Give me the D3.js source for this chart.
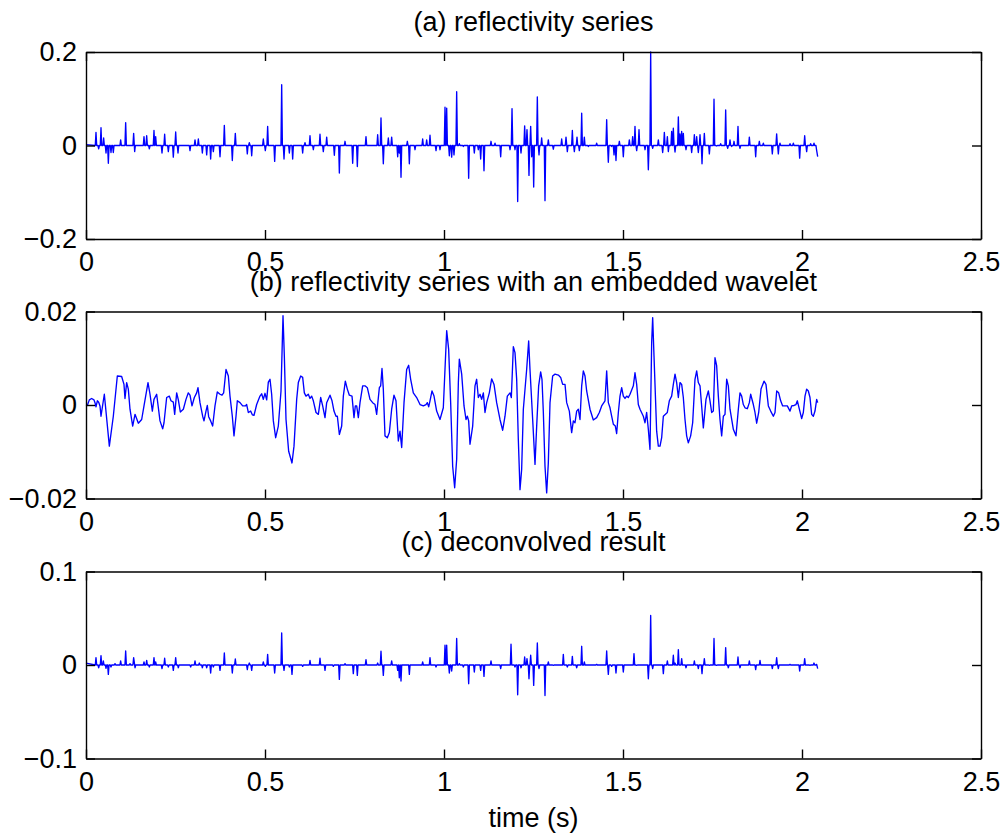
<!DOCTYPE html>
<html>
<head>
<meta charset="utf-8">
<script src="https://cdnjs.cloudflare.com/ajax/libs/d3/7.8.5/d3.min.js"></script>
<style>
  body { margin: 0; background: #fff; }
</style>
</head>
<body>
<div id="chart"></div>
<script>
// panel titles and axis text
const titles = [
  '(a) reflectivity series',
  '(b) reflectivity series with an embedded wavelet',
  '(c) deconvolved result',
];
const xLabel = 'time (s)';
const xTicks = [0, 0.5, 1, 1.5, 2, 2.5];
const xTickLabels = ['0', '0.5', '1', '1.5', '2', '2.5'];
const yDomains = [[-0.2, 0.2], [-0.02, 0.02], [-0.1, 0.1]];
const yTicks = [[-0.2, 0, 0.2], [-0.02, 0, 0.02], [-0.1, 0, 0.1]];
const yTickLabels = [
  ['\u22120.2', '0', '0.2'],
  ['\u22120.02', '0', '0.02'],
  ['\u22120.1', '0', '0.1'],
];

// sample interval of the traces (s)
const dt = 0.002;

// (a) reflectivity: spike times and amplitudes
// (first / last entries are the trace ends, other samples sit near zero)
const reflTime = [0, .0279, .0354, .0419, .0493, .0559, .0624, .0698, .0763, .0968, .1108, .1331, .1359, .162, .1695, .1769, .1899, .1946, .2123, .2197, .23, .2439, .2505, .257, .2905, .3045, .3138, .325, .3371, .3482, .3557, .3743, .3864, .4087, .4171, .4506, .4562, .4628, .4953, .5009, .5074, .527, .5466, .5531, .568, .5773, .6052, .6117, .6257, .635, .6536, .6629, .6723, .6937, .7077, .7235, .7449, .7579, .7821, .8147, .824, .8305, .8445, .8538, .8706, .8752, .8799, .8976, .9032, .919, .9404, .9516, .9609, .9777, .9888, 1.0028, 1.0075, 1.0149, 1.0214, 1.0279, 1.0354, 1.0428, 1.054, 1.0689, 1.0847, 1.0959, 1.1024, 1.1117, 1.1313, 1.1425, 1.1583, 1.1844, 1.19, 1.1983, 1.2058, 1.2151, 1.2253, 1.2318, 1.2374, 1.2421, 1.2449, 1.2505, 1.2607, 1.2654, 1.2728, 1.2821, 1.2914, 1.3054, 1.3287, 1.3408, 1.3445, 1.3585, 1.3641, 1.3715, 1.378, 1.3846, 1.392, 1.4032, 1.4264, 1.4544, 1.459, 1.4683, 1.4749, 1.4804, 1.4898, 1.5009, 1.5177, 1.527, 1.5335, 1.5382, 1.5447, 1.5615, 1.5708, 1.5773, 1.5829, 1.5987, 1.6108, 1.6155, 1.6239, 1.6266, 1.6359, 1.6406, 1.6453, 1.6546, 1.6592, 1.6639, 1.6685, 1.676, 1.6918, 1.6993, 1.7058, 1.7104, 1.7151, 1.7207, 1.7272, 1.7412, 1.7542, 1.7616, 1.7728, 1.7868, 1.7924, 1.7989, 1.8035, 1.8101, 1.8212, 1.8268, 1.8529, 1.8706, 1.8808, 1.892, 1.9171, 1.9292, 1.9339, 1.9385, 1.9665, 1.9758, 1.9935, 2.0075, 2.013, 2.0242, 2.0335, 2.041, 2.0438];
const reflValue = [.002, .028, -.007, .038, .016, -.016, -.038, -.015, -.015, .012, .049, .026, -.013, .019, .021, -.007, .032, .019, -.016, .024, -.013, -.025, .029, -.016, -.011, .012, .014, -.016, -.02, -.029, -.013, -.024, .043, -.032, .026, -.018, .006, -.022, .014, -.011, .041, -.034, .13, -.029, -.016, -.029, -.016, .006, .021, -.009, .024, -.013, .018, -.021, -.059, .009, -.038, -.045, .019, .023, .059, -.039, .016, .018, -.024, -.016, -.068, .009, -.039, -.009, .014, .012, .022, -.011, -.009, .082, .08, -.022, -.025, -.02, .115, .004, -.002, -.07, -.016, -.009, -.029, -.054, .009, .005, -.024, -.009, .079, -.009, -.12, -.016, .042, .034, -.064, .041, -.024, -.089, .104, -.02, .016, -.118, .012, -.008, .014, .018, -.013, .032, -.013, .018, -.011, .069, .018, -.002, .005, .055, -.036, -.002, -.02, -.032, .009, -.024, .012, .019, .041, -.011, .034, -.009, -.052, .2, -.006, .012, -.015, .028, .019, -.013, .03, .037, -.014, .061, .025, .03, .026, -.009, -.015, .023, .019, -.015, .023, -.039, .026, -.018, .099, -.001, .004, .076, -.006, .012, -.002, .009, .041, -.006, .018, -.024, .009, .005, -.018, .025, -.018, .005, .004, .005, -.027, .021, -.013, .004, .005, -.011, -.024];

// (b) reflectivity convolved with the wavelet: trace vertices
const waveTime = [0, .0037, .0093, .0158, .0223, .0251, .0279, .0317, .0354, .0391, .0419, .0512, .0652, .0763, .0875, .0996, .1061, .1089, .1136, .1182, .1229, .1304, .1369, .1462, .1555, .162, .1732, .1788, .1853, .1899, .1974, .2067, .2142, .2179, .2253, .2328, .2374, .2439, .2477, .2533, .2579, .2635, .2719, .2793, .2858, .2905, .2961, .3026, .3091, .3128, .3184, .3259, .3296, .3352, .3389, .3426, .3482, .3538, .3603, .3668, .3743, .3799, .3845, .3911, .3976, .4022, .4087, .4134, .419, .4227, .4302, .4376, .4451, .4488, .4534, .4599, .4646, .4693, .4767, .486, .4907, .4953, .5, .5047, .5093, .514, .5186, .5233, .5298, .5372, .5447, .5503, .554, .5587, .5661, .5754, .581, .5885, .5931, .5997, .6052, .6099, .6145, .621, .6257, .6304, .635, .6425, .649, .6555, .6611, .6676, .6723, .6816, .6872, .6927, .6983, .7021, .7077, .7142, .7188, .7244, .73, .7356, .743, .7486, .7523, .7561, .7607, .7654, .7728, .7793, .7858, .7933, .8007, .8073, .8119, .8194, .8231, .8268, .8305, .8352, .8417, .8473, .8538, .8603, .8659, .8724, .8771, .8818, .8883, .8957, .9013, .9069, .9143, .9236, .933, .9423, .9497, .9534, .9572, .9609, .9665, .9721, .9795, .9888, .9981, 1.0075, 1.013, 1.0186, 1.0242, 1.0298, 1.0354, 1.0401, 1.0428, 1.0494, 1.0559, 1.0615, 1.0652, 1.0689, 1.0726, 1.0801, 1.0866, 1.0912, 1.0959, 1.1006, 1.1052, 1.1099, 1.1145, 1.1192, 1.1266, 1.1331, 1.1397, 1.1471, 1.1564, 1.1639, 1.1704, 1.1769, 1.1844, 1.1881, 1.1937, 1.1983, 1.203, 1.2076, 1.2123, 1.2169, 1.2216, 1.2309, 1.2365, 1.2402, 1.2477, 1.2542, 1.2589, 1.2644, 1.27, 1.2737, 1.2775, 1.2821, 1.2868, 1.2914, 1.2961, 1.3035, 1.3101, 1.3194, 1.3259, 1.3315, 1.338, 1.3427, 1.3501, 1.3566, 1.3613, 1.3659, 1.3706, 1.3752, 1.3799, 1.3846, 1.3892, 1.3939, 1.3985, 1.4078, 1.4171, 1.4264, 1.4339, 1.4404, 1.4497, 1.4544, 1.459, 1.4637, 1.4683, 1.473, 1.4786, 1.4823, 1.487, 1.4916, 1.4963, 1.5009, 1.5056, 1.5103, 1.5149, 1.5196, 1.5289, 1.5335, 1.5382, 1.5428, 1.5475, 1.5568, 1.5615, 1.5661, 1.5708, 1.5754, 1.5801, 1.5829, 1.5866, 1.594, 1.5987, 1.6034, 1.608, 1.6127, 1.6238, 1.6294, 1.6359, 1.6406, 1.6453, 1.6499, 1.6546, 1.6592, 1.6639, 1.6685, 1.6732, 1.6778, 1.6825, 1.689, 1.6946, 1.7011, 1.7058, 1.7104, 1.7151, 1.7197, 1.7244, 1.7318, 1.7384, 1.743, 1.7477, 1.7523, 1.757, 1.7616, 1.7663, 1.7709, 1.7756, 1.7803, 1.7849, 1.7896, 1.7942, 1.7989, 1.8082, 1.8156, 1.8222, 1.8268, 1.8315, 1.8361, 1.8408, 1.8473, 1.8529, 1.8566, 1.8641, 1.8687, 1.8734, 1.879, 1.8855, 1.8939, 1.8994, 1.906, 1.9125, 1.92, 1.9246, 1.9293, 1.9348, 1.9404, 1.946, 1.9525, 1.959, 1.9665, 1.9711, 1.9777, 1.9832, 1.987, 1.9926, 1.9991, 2.0037, 2.0084, 2.013, 2.0177, 2.0223, 2.027, 2.0317, 2.0363, 2.041, 2.0438];
const waveValue = [-.0002, -.0001, .0011, .0014, .0011, .0005, -.0004, .0009, .0006, -.0002, -.0024, .0023, -.0088, -.0024, .0062, .0061, .0044, .0014, .0048, .0034, -.0009, -.0045, -.002, -.0039, -.0031, -.0002, .0048, .0023, -.0013, .0012, .0023, -.0034, -.0051, -.0038, .0016, .0019, .0009, .0006, -.002, .0026, .0011, -.0015, -.0009, .0012, .0026, .0021, -.0002, .0016, .0026, .0037, .0005, -.0024, -.0034, -.0013, -.0001, -.0025, -.0034, -.0045, -.0002, .0028, .0023, .0021, .0026, .0076, .0062, .0019, -.0024, -.0066, -.0024, .0009, .0005, -.0002, -.0002, .0001, -.0016, -.0013, -.0021, -.0022, .0001, .0019, .0024, .0012, .0025, .0011, .0049, .0055, .0023, -.0034, -.007, -.0045, .003, .0191, .0105, -.0031, -.0099, -.0124, -.0088, .0012, .0048, .0062, .0059, .0026, .0019, .0023, .0014, .0019, .0009, -.0016, -.002, .0016, -.0002, -.0027, .0005, .0021, .0009, -.0013, -.0024, -.0024, -.0063, -.0045, .0019, .0051, .0034, .0021, .0019, -.0027, -.0002, -.0002, -.0027, .0005, .0041, .0041, .0037, .0012, .0005, .0001, -.002, .0037, .0041, .0078, .0034, -.0066, -.007, -.0059, -.0009, .0021, .0009, -.0077, -.0056, -.0091, .0005, .0076, .0085, .0055, .0026, .0016, .0001, -.0002, .0001, .0005, -.0004, .0009, .003, .0019, -.0013, -.0031, -.0006, .0159, .0119, .0005, -.0131, -.0177, -.0116, .0048, .0098, .0066, -.0002, -.0031, -.0024, -.0034, -.0084, -.0045, .0041, .0055, .0016, .0023, .0012, .0026, -.0016, .0005, .0026, .0056, .0044, .0005, -.0031, -.0054, -.0024, .0019, .0026, .0016, .0125, .0112, .0055, -.0074, -.0181, -.0138, -.0009, .0076, .0137, .0076, -.0031, -.0127, -.0045, .0041, .0071, .0055, -.0016, -.0131, -.0188, -.0124, .0005, .0062, .0066, .0064, .0059, .0044, .0044, .0005, -.0013, -.0059, -.0034, -.0038, -.0013, -.0009, -.0031, .0041, .0073, .0062, .003, -.0009, -.0032, -.0027, -.0016, -.0002, .0009, .0073, .0005, -.0006, -.0024, -.0041, -.0045, -.0061, -.0016, .0019, .0037, .0019, .0014, .0019, .0016, .0023, .0041, .0069, .0044, .0001, -.0009, -.0024, -.0038, -.0016, -.0052, -.0095, .0134, .0187, .0105, -.0056, -.0088, -.0088, -.007, -.0024, -.0016, .0009, .0019, .0044, .0066, .0048, .0016, .0048, .0044, .0016, -.0031, -.0066, -.0081, -.0066, -.0038, .0055, .0073, .0048, .0041, -.0002, -.0049, .0012, .003, .0009, -.0016, -.0013, .0101, .0084, .0019, -.0031, -.0066, -.0024, -.002, .0055, .0041, -.0009, -.0052, -.0066, -.0009, .0026, .0019, .0001, -.0006, -.0008, .0005, .0023, .0001, -.0016, -.0039, -.0016, .0034, .0051, .0044, -.0002, -.0013, -.0024, -.0016, .003, .0026, .0009, -.0002, -.0002, -.0002, -.0013, -.0002, -.0001, .0001, .0009, -.0009, -.0029, -.0016, .0019, .0034, .003, .0016, -.002, -.0024, -.0013, .0012, .0005];

// (c) deconvolved result: spike times and amplitudes
const deconTime = [0, .0279, .0354, .0419, .0484, .0559, .0624, .0698, .081, .0968, .1108, .1229, .1331, .1369, .162, .1695, .1769, .1899, .1946, .2123, .2197, .23, .2439, .2505, .2579, .2924, .3045, .3166, .325, .3371, .3482, .3557, .3743, .3864, .4087, .4171, .4506, .4562, .4628, .4953, .5009, .5074, .527, .5466, .5531, .568, .5754, .6052, .6257, .6536, .6676, .6909, .7077, .7235, .7467, .7579, .7821, .8147, .824, .8305, .8538, .8706, .8752, .8799, .9032, .9404, .9609, .9777, 1.0028, 1.0075, 1.0149, 1.0214, 1.0354, 1.0428, 1.054, 1.0689, 1.0847, 1.1024, 1.1117, 1.1313, 1.1583, 1.1872, 1.1983, 1.2058, 1.2151, 1.2253, 1.2318, 1.2374, 1.2421, 1.2505, 1.2607, 1.2654, 1.2821, 1.2914, 1.3054, 1.3333, 1.3445, 1.3585, 1.3706, 1.3846, 1.392, 1.4264, 1.4544, 1.459, 1.4683, 1.4804, 1.5009, 1.5307, 1.5382, 1.5708, 1.5773, 1.5829, 1.6127, 1.6239, 1.6406, 1.6453, 1.6546, 1.6639, 1.676, 1.6993, 1.7104, 1.7207, 1.7272, 1.7412, 1.7542, 1.7616, 1.7868, 1.7942, 1.8212, 1.8268, 1.8529, 1.8706, 1.8827, 1.9171, 1.9292, 1.9339, 1.9665, 1.9935, 2.0075, 2.0223, 2.0335, 2.041, 2.0438];
const deconValue = [.002, .0079, -.0029, .010, .0043, -.0036, -.010, -.0021, .0014, .0043, .015, .0014, .0079, -.0029, .0032, .005, -.0021, .0079, .0032, -.0039, .0072, -.0021, -.0057, .0079, -.0029, -.0021, .0043, .0021, -.0029, -.0029, -.0086, -.0021, -.0057, .0129, -.0086, .0064, -.005, .0021, -.0057, .0032, -.0014, .0114, -.0086, .0343, -.0057, -.0021, -.010, -.0014, .005, .0072, -.0057, -.0014, -.0154, .0014, -.0093, -.0111, .0057, .0021, .0147, -.0111, .0043, -.0057, -.0136, -.0172, -.010, .0032, .0079, -.0021, .0211, .0211, -.0086, -.0064, .0283, .0014, -.0021, -.020, -.0075, -.0057, -.0122, .0043, -.0039, .0222, -.0021, -.0318, -.0029, .0086, .0068, -.0147, .0104, -.0218, .0236, -.0039, -.0326, .0032, -.0004, .0114, -.0021, .0093, -.0029, .020, .0032, .0007, .015, -.010, -.0014, -.0086, -.0075, .0122, -.0004, -.0147, .053, -.0039, -.0093, .0043, .0104, .0021, .0165, .0068, -.0029, .0043, -.0039, -.0093, .0068, -.0004, .0283, -.0004, .0186, -.0029, .0086, -.0029, .0043, -.005, .005, -.0039, .0079, -.0039, .0007, -.0064, .0068, -.0004, .0021, .0007, -.0039];

const width = 1005;
const height = 836;
const left = 86;
const right = 981;
const panelTop = [52, 311.5, 571.5];
const panelH = 187;
const fontSize = 27;
const font = '"Liberation Sans", Arial, Helvetica, sans-serif';

const svg = d3
  .select('#chart')
  .append('svg')
  .attr('width', width)
  .attr('height', height)
  .style('font-family', font);

const xScale = d3.scaleLinear().domain([0, 2.5]).range([left, right]);

// spikes are single samples, the neighbouring samples sit on zero
function spikeTrace(ts, vs) {
  const pts = [];
  ts.forEach((t, i) => {
    const inner = i > 0 && i < ts.length - 1;
    if (inner && t - ts[i - 1] > 2 * dt) pts.push([t - dt, 0]);
    pts.push([t, vs[i]]);
    if (inner && ts[i + 1] - t > 2 * dt) pts.push([t + dt, 0]);
  });
  return pts;
}

const traces = [
  spikeTrace(reflTime, reflValue),
  waveTime.map((t, i) => [t, waveValue[i]]),
  spikeTrace(deconTime, deconValue),
];

traces.forEach((pts, p) => {
  const top = panelTop[p];
  const yScale = d3
    .scaleLinear()
    .domain(yDomains[p])
    .range([top + panelH, top]);

  const g = svg.append('g');

  // trace
  const line = d3
    .line()
    .x((d) => xScale(d[0]))
    .y((d) => yScale(d[1]));

  g.append('path')
    .datum(pts)
    .attr('d', line)
    .attr('fill', 'none')
    .attr('stroke', '#0000ff')
    .attr('stroke-width', 1.35)
    .attr('stroke-linejoin', 'round');

  // box with inward ticks on all four sides
  const styleAxis = (sel) => {
    sel.attr('font-size', fontSize).attr('font-family', font);
    sel.selectAll('path, line').attr('stroke', '#000').attr('stroke-width', 1.4);
    sel.selectAll('text').attr('fill', '#000');
  };

  g.append('g')
    .attr('transform', `translate(0,${top + panelH})`)
    .call(
      d3.axisBottom(xScale)
        .tickValues(xTicks)
        .tickFormat((d, i) => xTickLabels[i])
        .tickSizeInner(-9)
        .tickSizeOuter(0)
        .tickPadding(13),
    )
    .call(styleAxis);

  g.append('g')
    .attr('transform', `translate(0,${top})`)
    .call(
      d3.axisTop(xScale)
        .tickValues(xTicks)
        .tickFormat('')
        .tickSizeInner(-9)
        .tickSizeOuter(0),
    )
    .call(styleAxis);

  g.append('g')
    .attr('transform', `translate(${left},0)`)
    .call(
      d3.axisLeft(yScale)
        .tickValues(yTicks[p])
        .tickFormat((d, i) => yTickLabels[p][i])
        .tickSizeInner(-9)
        .tickSizeOuter(0)
        .tickPadding(9),
    )
    .call(styleAxis);

  g.append('g')
    .attr('transform', `translate(${right},0)`)
    .call(
      d3.axisRight(yScale)
        .tickValues(yTicks[p])
        .tickFormat('')
        .tickSizeInner(-9)
        .tickSizeOuter(0),
    )
    .call(styleAxis);

  // title
  svg
    .append('text')
    .attr('x', (left + right) / 2)
    .attr('y', top - 21)
    .attr('text-anchor', 'middle')
    .style('font-size', fontSize + 'px')
    .text(titles[p]);
});

svg
  .append('text')
  .attr('x', (left + right) / 2)
  .attr('y', 826.5)
  .attr('text-anchor', 'middle')
  .style('font-size', fontSize + 'px')
  .text(xLabel);
</script>
</body>
</html>
